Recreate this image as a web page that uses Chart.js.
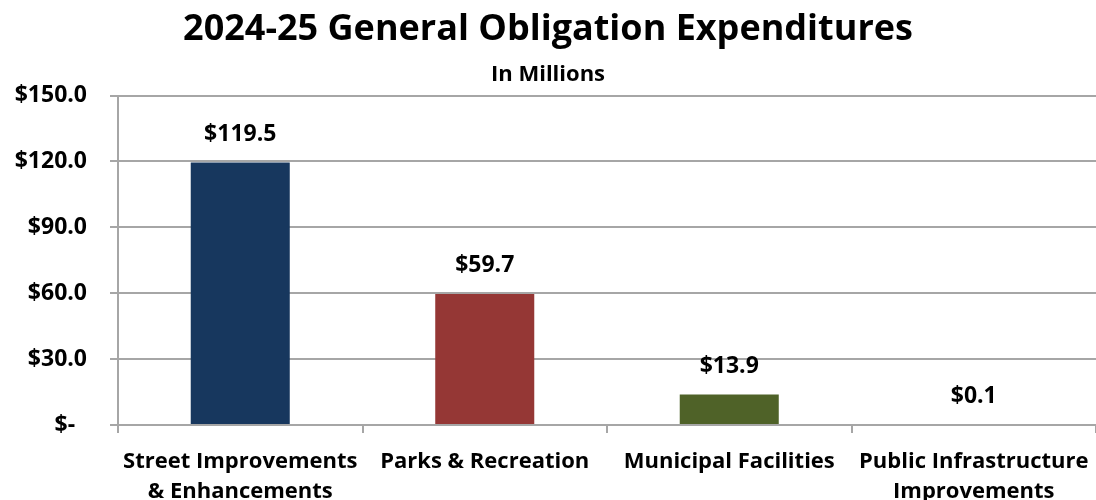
<!DOCTYPE html>
<html><head><meta charset="utf-8">
<script src="https://cdn.jsdelivr.net/npm/chart.js@4/dist/chart.umd.min.js"></script>
<style>html,body{margin:0;padding:0;background:#fff}#wrap{width:1096px;height:500px}</style>
</head><body><div id="wrap"><canvas id="c" width="1096" height="500"></canvas></div>
<script>
const categories = [["Street Improvements","& Enhancements"],"Parks & Recreation","Municipal Facilities",["Public Infrastructure","Improvements"]];
const values = [119.5, 59.7, 13.9, 0.1];
const barColors = ["#17375E","#953735","#4F6228","#A6A6A6"];
const yTicks = [0,30,60,90,120,150];
const FONT = "'Open Sans', sans-serif";

const labelPlugin = {
  id:'barLabels',
  afterDatasetsDraw(chart){
    const ctx = chart.ctx;
    const meta = chart.getDatasetMeta(0);
    ctx.save();
    ctx.font = "bold 23px " + FONT;
    ctx.fillStyle = "#000";
    ctx.textAlign = "center";
    ctx.textBaseline = "middle";
    meta.data.forEach((bar,i)=>{
      ctx.fillText("$" + values[i].toFixed(1), bar.x, bar.y - 28);
    });
    ctx.restore();
  }
};

new Chart(document.getElementById('c'), {
  type:'bar',
  data:{labels:categories, datasets:[{data:values, backgroundColor:barColors, barPercentage:0.405, categoryPercentage:1}]},
  options:{
    responsive:false, animation:false,
    layout:{padding:{left:0,right:0,top:0,bottom:0}},
    plugins:{
      legend:{display:false}, tooltip:{enabled:false},
      title:{display:true,text:"2024-25 General Obligation Expenditures",color:"#000",font:{family:FONT,size:36,weight:'bold'},padding:{top:8,bottom:4}},
      subtitle:{display:true,text:"In Millions",color:"#000",font:{family:FONT,size:22,weight:'bold'},padding:{top:6,bottom:8}}
    },
    scales:{
      x:{
        grid:{offset:true,drawOnChartArea:false,drawTicks:true,tickLength:8,color:"#A6A6A6",lineWidth:2},
        border:{color:"#A6A6A6",width:2},
        ticks:{color:"#000",font:{family:FONT,size:22,weight:'bold',lineHeight:1.36},padding:14,maxRotation:0,autoSkip:false},
        afterFit(s){ s.height = 75; s.paddingLeft = 0; s.paddingRight = 0; }
      },
      y:{
        min:0,max:150,
        afterBuildTicks(s){ s.ticks = yTicks.map(v=>({value:v})); },
        grid:{color:"#A6A6A6",lineWidth:2,tickLength:8},
        border:{color:"#A6A6A6",width:2},
        ticks:{color:"#000",font:{family:FONT,size:23,weight:'bold'},padding:23,
          callback:v=> v===0 ? "$-  " : "$"+Number(v).toFixed(1)},
        afterFit(s){ s.width = 118; }
      }
    }
  },
  plugins:[labelPlugin]
});
</script></body></html>
